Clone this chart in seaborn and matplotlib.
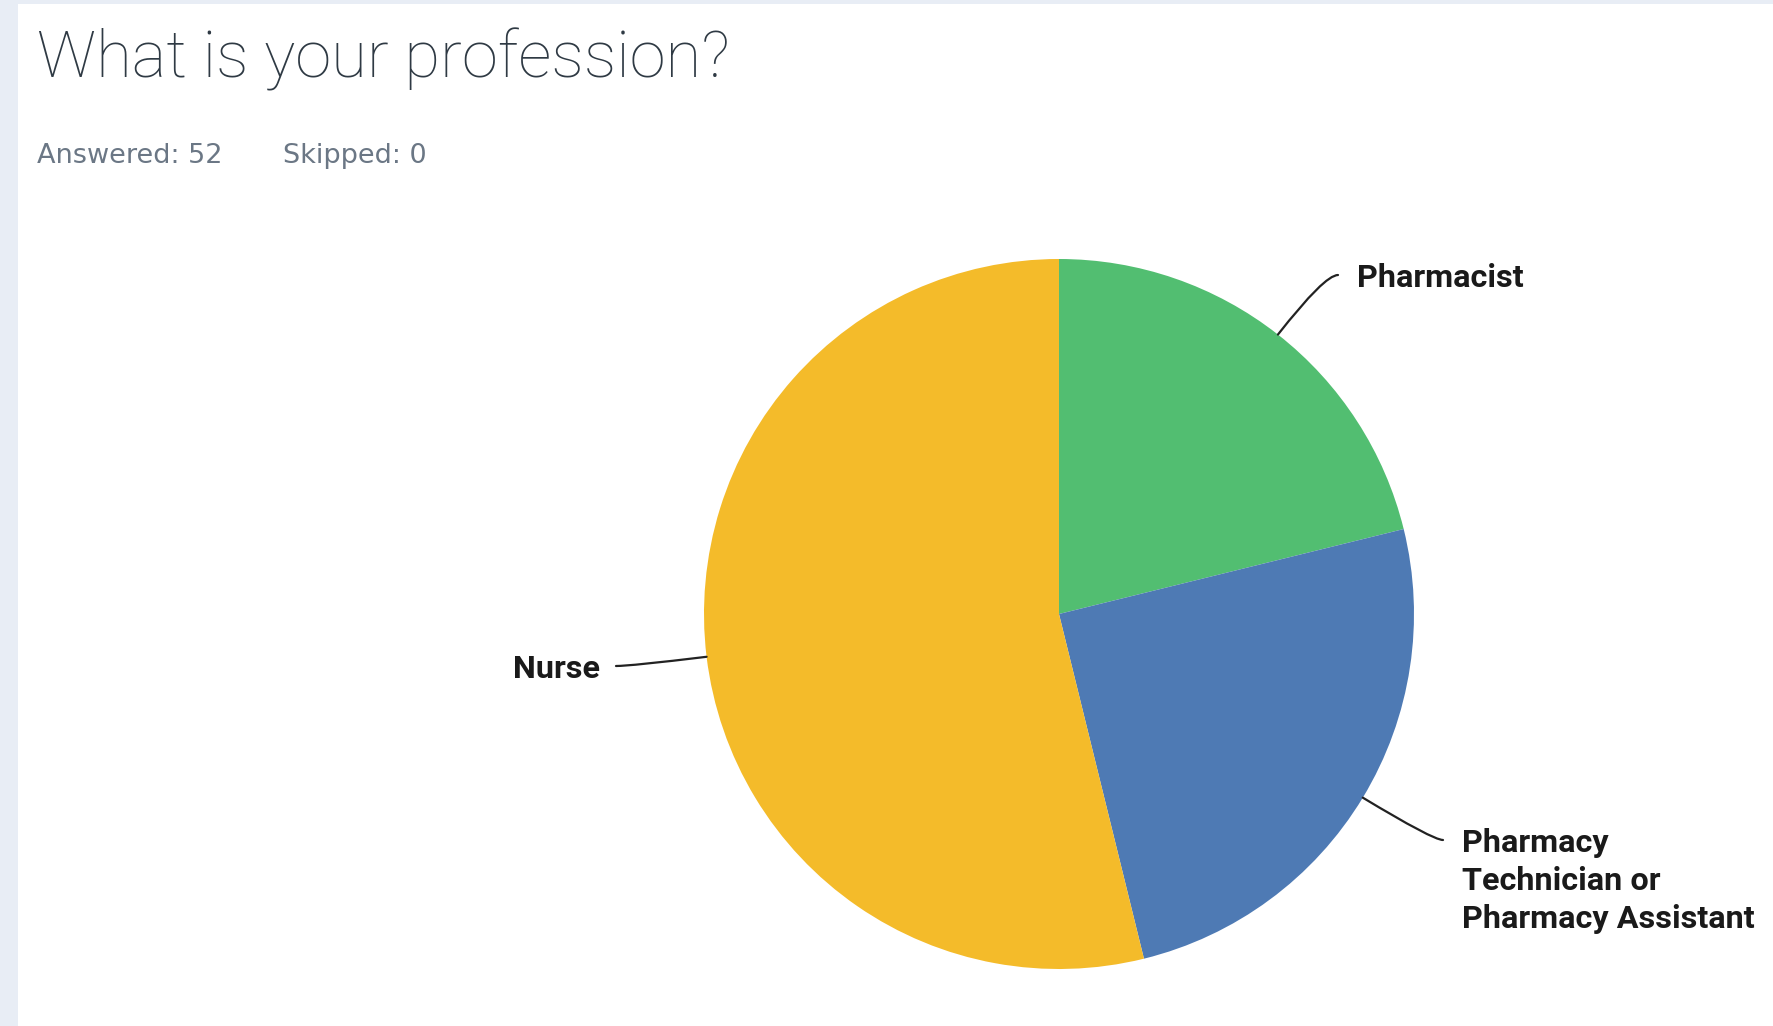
import numpy as np
import matplotlib
matplotlib.use("Agg")
import matplotlib.pyplot as plt
import seaborn as sns
from matplotlib.patches import Rectangle

# ---- data ----
categories = ["Pharmacist", "Pharmacy\nTechnician or\nPharmacy Assistant", "Nurse"]
counts = [11, 13, 28]
colors = ["#52BE71", "#4E7AB4", "#F4BB2A"]
title = "What is your profession?"
answered = 52
skipped = 0

sns.set_theme(style="white")
plt.rcParams["font.family"] = ["Roboto", "DejaVu Sans"]
palette = sns.color_palette(colors)

W, H = 1773, 1026
fig = plt.figure(figsize=(W / 100, H / 100), dpi=100)
fig.patch.set_facecolor("#E8EDF5")
fig.add_artist(Rectangle((18 / W, 0), 1, (H - 4) / H, transform=fig.transFigure,
                         facecolor="white", edgecolor="none", zorder=0))

ax = fig.add_axes([0, 0, 1, 1])
ax.patch.set_alpha(0)

cx, cy, r = 1059, H - 614, 355
wedges, _ = ax.pie(counts, colors=palette, startangle=90, counterclock=False,
                   center=(cx, cy), radius=r, wedgeprops=dict(linewidth=0))
ax.set_xlim(0, W)
ax.set_ylim(0, H)
ax.set_aspect("equal")
ax.axis("off")

# label layout: (text x, first baseline from top, side)
label_pos = [(1357, 287, "left"), (1462, 852, "left"), (600, 678, "right")]
cap_half = 12
gap = 19
for w, lab, (tx, tb, side) in zip(wedges, categories, label_pos):
    mid = np.deg2rad((w.theta1 + w.theta2) / 2)
    ex, ey = cx + r * np.cos(mid), cy + r * np.sin(mid)
    ly = H - (tb - cap_half)
    lx = tx - gap if side == "left" else tx + gap - 3
    ang = np.rad2deg(mid)
    ax.annotate("", xy=(ex, ey), xytext=(lx, ly),
                arrowprops=dict(arrowstyle="-", color="#222222", lw=1.6,
                                shrinkA=0, shrinkB=0,
                                connectionstyle=f"angle3,angleA=0,angleB={ang:.2f}"))
    ax.text(tx, H - tb + 24, lab, ha=side, va="top", fontsize=23.3,
            fontweight="bold", color="#1a1a1a", linespacing=1.34)

fig.text(37 / W, 1 - 78 / H, title, fontsize=47, fontweight="light",
         color="#2F3A44", va="baseline", ha="left")
fig.text(37 / W, 1 - 163 / H, f"Answered: {answered}", fontsize=19.5,
         color="#6B7785", va="baseline", ha="left", family=["DejaVu Sans"])
fig.text(283 / W, 1 - 163 / H, f"Skipped: {skipped}", fontsize=19.5,
         color="#6B7785", va="baseline", ha="left", family=["DejaVu Sans"])

fig.savefig("out.png", dpi=100, facecolor=fig.get_facecolor())
